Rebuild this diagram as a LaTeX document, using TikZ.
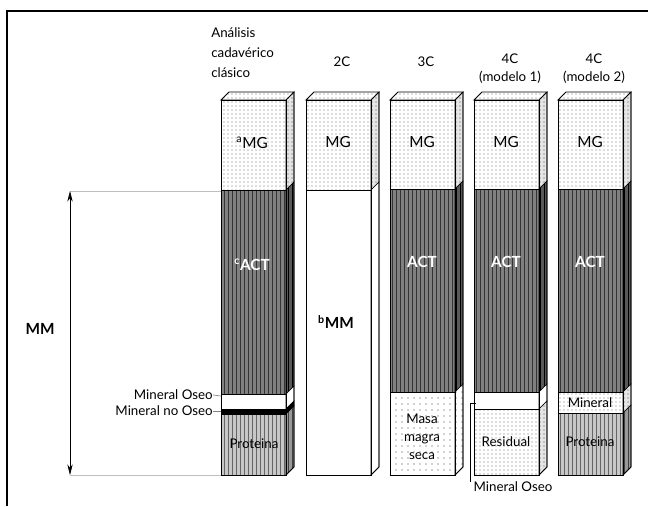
\documentclass[tikz,border=0pt]{standalone}
\usepackage{fontspec}
\setmainfont{Lato}
\usetikzlibrary{arrows.meta, positioning, patterns}
\pgfdeclarepatternformonly{sparse dots}{\pgfqpoint{-1pt}{-1pt}}{\pgfqpoint{1pt}{1pt}}{\pgfqpoint{4.5pt}{4.5pt}}{\pgfpathcircle{\pgfqpoint{0pt}{0pt}}{.45pt}\pgfusepath{fill}}

\begin{document}
\begin{tikzpicture}[x=0.75pt, y=-0.75pt,
    frame/.style={line width=2.2pt},
    mg/.style={preaction={fill=white}, pattern=dots, pattern color=black!55},
    mgs/.style={preaction={fill=black!10}, pattern=dots, pattern color=black!70},
    act/.style={preaction={fill=black!50}, pattern=vertical lines, pattern color=black!80},
    acts/.style={preaction={fill=black!65}, pattern=vertical lines, pattern color=black},
    blank/.style={fill=white},
    band/.style={fill=black},
    prot/.style={preaction={fill=black!22}, pattern=vertical lines, pattern color=black!60},
    prots/.style={preaction={fill=black!40}, pattern=vertical lines, pattern color=black!75},
    masa/.style={preaction={fill=white}, pattern=sparse dots, pattern color=black!75},
    lbl/.style={inner sep=0pt, font=\fontsize{11.5}{13}\selectfont},
    wlbl/.style={lbl, text=white, font=\fontsize{11.5}{13}\selectfont\bfseries},
    blbl/.style={lbl, font=\fontsize{11.5}{13}\selectfont\bfseries},
    slbl/.style={inner sep=0pt, align=center, font=\fontsize{10}{13.5}\selectfont},
    hdr/.style={inner sep=0pt, align=center, font=\fontsize{10}{13.5}\selectfont},
    leader/.style={line width=0.5pt},
    dim/.style={black!25, line width=0.5pt},
    mmarrow/.style={{Stealth[length=8pt,width=4pt]}-{Stealth[length=8pt,width=4pt]}, line width=0.5pt}
  ]
  \useasboundingbox (0,0) rectangle (648,506);
  \draw[frame] (7,506) -- (7,11) -- (648,11);

  % column slices: x / top / bottom / front / side
  \foreach \x/\a/\b/\f/\g in {
      221/100/190/mg/mgs, 221/190/394/act/acts, 221/394/409/blank/blank,
      221/409/414/band/band, 221/414/475/prot/prots,
      306/100/190/mg/mgs, 306/190/475/blank/blank,
      390/100/189/mg/mgs, 390/189/392/act/acts, 390/392/475/masa/masa,
      474/100/189/mg/mgs, 474/189/392/act/acts, 474/392/409/blank/blank, 474/409/475/mg/mgs,
      558/100/189/mg/mgs, 558/189/392/act/acts, 558/392/413/mg/mgs, 558/413/475/prot/prots}{
    \path[\f, draw, line width=0.4pt] (\x,\a) rectangle (\x+65,\b);
    \path[\g, draw, line width=0.4pt] (\x+65,\a) -- (\x+73,\a-8) -- (\x+73,\b-8) -- (\x+65,\b) -- cycle;
  }
  % tops and outlines
  \foreach \x in {221,306,390,474,558}{
    \path[mg, draw, line width=0.7pt] (\x,100) -- (\x+8,92) -- (\x+73,92) -- (\x+65,100) -- cycle;
    \draw[line width=0.7pt] (\x,100) rectangle (\x+65,475);
    \draw[line width=0.7pt] (\x+65,475) -- (\x+73,467) -- (\x+73,92);
  }

  % headers
  \node[hdr, anchor=west, align=left, font=\fontsize{10}{15}\selectfont] (ana) at (211,53) {Análisis\\cadavérico\\clásico};
  \node[hdr] (dosc) at (342,62) {2C};
  \node[hdr] (tresc) at (426,62) {3C};
  \node[hdr] (cuatroa) at (510,69) {4C\\(modelo 1)};
  \node[hdr] (cuatrob) at (594,69) {4C\\(modelo 2)};

  % labels in the columns
  \node[lbl] (mga) at (252,143) {\textsuperscript{a}MG};
  \node[lbl] (mgb) at (338,142) {MG};
  \node[lbl] (mgc) at (422,142) {MG};
  \node[lbl] (mgd) at (506,142) {MG};
  \node[lbl] (mge) at (590,142) {MG};
  \node[wlbl] (acta) at (252,265) {\textsuperscript{c}ACT};
  \node[wlbl] (actc) at (422,262) {ACT};
  \node[wlbl] (actd) at (506,262) {ACT};
  \node[wlbl] (acte) at (590,262) {ACT};
  \node[blbl] (mmb) at (336,322) {\textsuperscript{b}MM};
  \node[slbl] (prota) at (254,444) {Proteina};
  \node[slbl] (masa) at (422,437) {Masa\\magra\\seca};
  \node[slbl] (resid) at (506,442) {Residual};
  \node[slbl] (minere) at (590,403) {Mineral};
  \node[slbl] (prote) at (590,442) {Proteina};

  % left side
  \node[slbl, anchor=east] (mino) at (213,395) {Mineral Oseo};
  \node[slbl, anchor=east] (minno) at (213,411) {Mineral no Oseo};
  \coordinate (minoend) at (221,396);
  \coordinate (minnoend) at (221,411);
  \draw[leader, black!50] (mino.east) -- (minoend);
  \draw[leader, black!50] (minno.east) -- (minnoend);

  \node[blbl] (mm) at (40,329) {MM};
  \coordinate (mmtop) at (70,191);
  \coordinate (mmbot) at (70,475);
  \coordinate (dimtop) at (221,191);
  \coordinate (dimbot) at (221,475);
  \draw[dim] (mmtop) -- (dimtop);
  \draw[dim] (mmbot) -- (dimbot);
  \draw[mmarrow] (mmtop) -- (mmbot);

  % bottom label of column 4
  \node[slbl] (minbot) at (513,487) {Mineral Oseo};
  \coordinate (minbend) at (476,403);
  \coordinate (minbcorner) at (470,403);
  \draw[leader] (minbend) -- (minbcorner) -- (minbcorner |- minbot.north);
\end{tikzpicture}
\end{document}
